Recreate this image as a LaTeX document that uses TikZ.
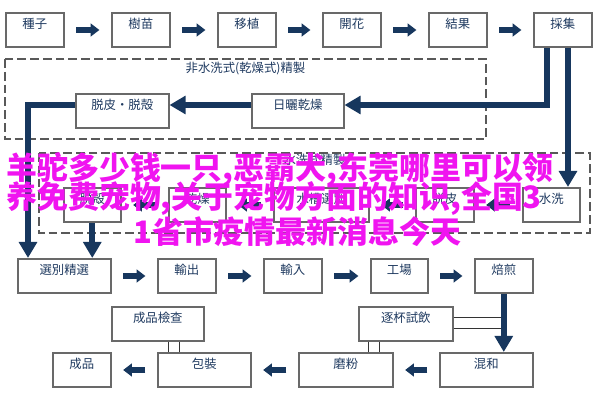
\documentclass[tikz,border=0pt]{standalone}
\usepackage{fontspec}
\newfontfamily\jpfont{Noto Sans CJK JP}
\newfontfamily\cjk{Noto Sans CJK SC}
\usetikzlibrary{arrows.meta}
\definecolor{arrownavy}{RGB}{23,55,94}
\definecolor{labelnavy}{RGB}{31,58,96}
\definecolor{boxgray}{RGB}{105,105,105}
\definecolor{admagenta}{RGB}{240,20,240}
\tikzset{box/.style={draw=boxgray, line width=1.1pt, fill=white, anchor=north west,
		minimum width=#1*0.025cm, inner ysep=0pt, text height=11pt, text depth=13.5pt,
		font=\jpfont\fontsize{8.8pt}{10pt}\selectfont, text=labelnavy}}
\tikzset{stage/.style={draw=gray!70!black, line width=0.8pt, dash pattern=on 0.22cm off 0.1cm}}

\begin{document}
\begin{tikzpicture}[
		x=0.025cm, y=-0.025cm,
		flow/.style={-{Triangle[length=0.22cm,width=0.32cm]}, line width=0.13cm, arrownavy,
			shorten <=0.29cm, shorten >=0.29cm},
		bigarrow/.style={-{Triangle[length=0.4cm,width=0.44cm]}, line width=0.14cm, arrownavy},
		twin/.style={black!80, line width=0.6pt},
		stagelabel/.style={font=\jpfont\fontsize{8.8pt}{10pt}\selectfont, text=labelnavy},
		spam/.style={anchor=west, inner sep=0pt, text=admagenta,
			font=\cjk\bfseries\fontsize{22pt}{24pt}\selectfont}
		]
		\useasboundingbox (0,0) rectangle (600,394);
		% cultivation
		\node[box=58] (seed) at (5,12) {種子};
		\node[box=58] (seedling) at (111,12) {樹苗};
		\node[box=58] (transplant) at (217,12) {移植};
		\node[box=58] (flower) at (322,12) {開花};
		\node[box=58] (fruit) at (428,12) {結果};
		\node[box=58] (harvest) at (533,12) {採集};
		\foreach \a/\b in {seed/seedling, seedling/transplant, transplant/flower, flower/fruit, fruit/harvest}
			\draw[flow] (\a.east) -- (\b.west);
		% dry process
		\draw[stage] (5,59) rectangle (486,139);
		\node[stagelabel] (drylabel) at (245.5,69) {非水洗式(乾燥式)精製};
		\node[box=93] (hull) at (75,93) {脱皮・脱殻};
		\node[box=92] (sundry) at (251,93) {日曬乾燥};
		% wet process
		\draw[stage] (39,153) rectangle (590,233);
		\node[stagelabel] (wetlabel) at (314.5,160) {水洗式精製};
		\node[box=57] (washhull) at (63,187) {脱殻};
		\node[box=57] (washdry) at (168,187) {乾燥};
		\node[box=95] (float) at (273,187) {水槽選別};
		\node[box=58] (pulp) at (415,187) {脱皮};
		\node[box=57] (wash) at (522,187) {水洗};
		\foreach \a/\b in {wash/pulp, pulp/float, float/washdry, washdry/washhull}
			\draw[flow] (\a.west) -- (\b.east);
		% trade and roasting
		\node[box=93] (sort) at (17,258) {選別精選};
		\node[box=58] (export) at (157,258) {輸出};
		\node[box=58] (import) at (263,258) {輸入};
		\node[box=57] (factory) at (370,258) {工場};
		\node[box=58] (roast) at (474,258) {焙煎};
		\foreach \a/\b in {sort/export, export/import, import/factory, factory/roast}
			\draw[flow] (\a.east) -- (\b.west);
		% checks
		\node[box=92] (inspect) at (111,306) {成品檢查};
		\node[box=94] (cupping) at (358,306) {逐杯試飲};
		% finishing
		\node[box=58] (product) at (52,352) {成品};
		\node[box=93] (pack) at (157,352) {包裝};
		\node[box=94] (grind) at (298,352) {磨粉};
		\node[box=93] (blend) at (439,352) {混和};
		\foreach \a/\b in {blend/grind, grind/pack, pack/product}
			\draw[flow] (\a.west) -- (\b.east);
		% long connectors
		\coordinate (hdrop) at (547,105);
		\coordinate (hleft) at (28,105);
		\coordinate (wdrop) at (568,0);
		\draw[bigarrow] (harvest.south -| hdrop) |- (sundry.east |- hdrop);
		\draw[bigarrow] (sundry.west |- hdrop) -- (hull.east |- hdrop);
		\draw[bigarrow] (hull.west |- hleft) -| (sort.north -| hleft);
		\draw[bigarrow] (washhull.south) -- (sort.north -| washhull.south);
		\draw[bigarrow] (harvest.south -| wdrop) -- (wash.north -| wdrop);
		\foreach \x in {168,179}
			\draw[twin] (\x,0 |- inspect.south) -- (\x,0 |- pack.north);
		\foreach \x in {368,379}
			\draw[twin] (\x,0 |- cupping.south) -- (\x,0 |- grind.north);
		\foreach \y in {317,328}
			\draw[twin] (cupping.east |- 0,\y) -- (roast.south |- 0,\y);
		\draw[bigarrow] (roast.south) -- (roast.south |- blend.north);
		% overlay text
		\node[spam] (ad1) at (6,169) {羊驼多少钱一只,恶霸犬,东莞哪里可以领};
		\node[spam] (ad2) at (6,198.5) {养免费宠物,关于宠物方面的知识,全国3};
		\node[spam] (ad3) at (133,231.5) {1省市疫情最新消息今天};
	\end{tikzpicture}
\end{document}
